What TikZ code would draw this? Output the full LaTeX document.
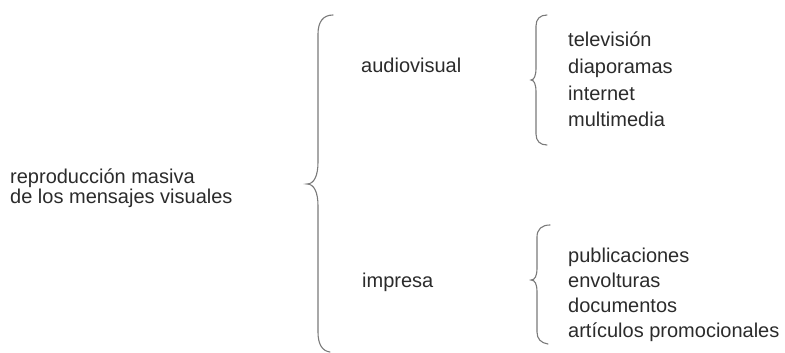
\documentclass[tikz,border=0pt]{standalone}
\usepackage{fontspec}
\setmainfont{Liberation Sans}
\definecolor{txt}{HTML}{2B2B2B}
\definecolor{brc}{HTML}{7A7A7A}
\tikzset{
  lbl/.style={anchor=base west, inner sep=0pt, font=\fontsize{20}{24}\selectfont, text=txt},
  brace/.style={draw=brc, line width=1.1pt, line cap=round}
}
\begin{document}
\begin{tikzpicture}[x=1pt,y=-1pt]
\useasboundingbox (0,0) rectangle (785,353);
% root text
\node[lbl] (r1) at (10,183) {reproducción masiva};
\node[lbl] (r2) at (10,203) {de los mensajes visuales};
% second level
\node[lbl] (av) at (361,73) {audiovisual};
\node[lbl] (im) at (362,287) {impresa};
% leaves
\node[lbl] (a1) at (568,47) {televisión};
\node[lbl] (a2) at (568,73.5) {diaporamas};
\node[lbl] (a3) at (568,100) {internet};
\node[lbl] (a4) at (568,126.5) {multimedia};
\node[lbl] (b1) at (568,262) {publicaciones};
\node[lbl] (b2) at (568,287) {envolturas};
\node[lbl] (b3) at (568,312) {documentos};
\node[lbl] (b4) at (568,337) {artículos promocionales};
% big brace
\path[brace] (333,15) .. controls (323,15) and (318,22) .. (318,34)
  -- (318,162) .. controls (318,176) and (314,184) .. (307,184)
  .. controls (314,184) and (318,192) .. (318,206)
  -- (318,332) .. controls (318,344) and (322,351) .. (330,352);
% upper small brace
\path[brace] (547,15) .. controls (540,15) and (536,19) .. (536,26)
  -- (536,68) .. controls (536,76) and (534,80) .. (531,80)
  .. controls (534,80) and (536,84) .. (536,92)
  -- (536,134) .. controls (536,141) and (540,145) .. (547,145);
% lower small brace
\path[brace] (550,225) .. controls (542,225) and (537,229) .. (537,237)
  -- (537,268) .. controls (537,276) and (535,280) .. (531,280)
  .. controls (535,280) and (537,284) .. (537,292)
  -- (537,332) .. controls (537,339) and (541,343) .. (548,344);
\end{tikzpicture}
\end{document}
